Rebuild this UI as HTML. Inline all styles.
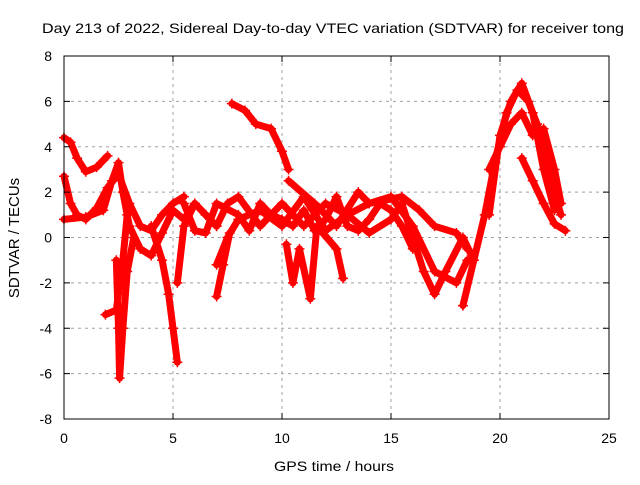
<!DOCTYPE html>
<html><head><meta charset="utf-8"><style>
body{margin:0;background:#fff;font-family:"Liberation Sans",sans-serif;}
svg text{font-family:"Liberation Sans",sans-serif;font-size:14px;fill:#000;}
</style></head><body>
<svg id="c" width="640" height="480" xmlns="http://www.w3.org/2000/svg">
<rect x="0" y="0" width="640" height="480" fill="#fff"/>
<text x="42" y="33" textLength="582" lengthAdjust="spacingAndGlyphs">Day 213 of 2022, Sidereal Day-to-day VTEC variation (SDTVAR) for receiver tong</text>
<text x="274" y="471" textLength="120" lengthAdjust="spacingAndGlyphs">GPS time / hours</text>
<text transform="translate(19,238) rotate(-90)" text-anchor="middle" style="font-size:15px">SDTVAR / TECUs</text>
<g id="grid"></g><g id="series"></g><g id="axes"></g>
</svg>
<script>
const xTicks=[0,5,10,15,20,25];
const yTicks=[-8,-6,-4,-2,0,2,4,6,8];
const trackA=[[0,4.4],[0.3,4.2],[0.6,3.5],[1,2.9],[1.5,3.1],[2,3.6]];
const trackB=[[0,2.7],[0.3,1.5],[0.6,1.0],[1,0.8],[1.5,1.3],[2,2.2],[2.5,2.8],[3,1.5],[3.5,0.5],[4,0.3],[4.5,1.0],[5,1.5],[5.5,1.8]];
const trackC=[[0,0.8],[1,0.9],[1.8,1.2],[2.2,2.5],[2.5,3.3],[2.7,2.0],[3,0.5],[3.5,-0.5],[4,-0.8],[4.5,0.2],[5,1.2],[5.5,0.8],[6,1.5]];
const trackD=[[2.4,-1],[2.5,-4],[2.55,-6.2],[2.7,-4],[2.9,-1.5],[3.2,0]];
const trackE=[[1.9,-3.4],[2.4,-3.2],[2.7,-1],[2.9,1]];
const trackF=[[4,0.5],[4.5,-1],[4.8,-2.5],[5,-4],[5.2,-5.5]];
const trackG=[[5.2,-2],[5.5,0.5],[6,1.5],[6.5,1.0],[7,0.5]];
const trackH=[[7.7,5.9],[8.3,5.6],[8.8,5.0],[9.5,4.8],[10,3.8],[10.3,3.0]];
const trackI=[[6.5,1.0],[7,0.5],[7.5,1.5],[8,1.8],[9,0.5],[10,1.5],[11,0.5],[12,1.5],[13,1.0],[14,1.5],[15,1.8],[16,0.5],[17,-1.5],[18,-2],[18.5,-1]];
const trackJ=[[7,-1.2],[7.5,0],[8,0.8],[9,1.2],[10,0.5],[11,1.8],[12,0.3],[13,1.0],[14,0.2],[15,0.8],[15.5,1.5],[16,0],[16.5,-1.5],[17,-2.5],[17.5,-1.5],[18.3,0],[18.8,-1]];
const trackK=[[10.3,2.5],[11.5,1.5],[12.5,0.5],[13.5,2.0],[14,1.5],[15.5,1.8],[16.3,1.2],[17,0.5],[18,0.2],[18.5,-0.5]];
const trackL=[[18.3,-3],[18.8,-1],[19.3,1],[19.8,3.5],[20.3,5.5],[20.8,6.5],[21.3,6],[21.7,5],[22.3,2.5],[22.8,1]];
const trackM=[[19.5,3],[20,4],[20.5,5],[21,5.5],[21.5,4.5],[22,4.8],[22.5,3],[22.8,1.5]];
const trackN=[[21,3.5],[21.5,2.5],[22,1.5],[22.5,0.6],[23,0.3]];
const trackO=[[19.5,1],[20,4.5],[20.5,6],[21,6.8],[21.5,5.5],[22,3],[22.5,1.2]];
const trackP=[[10.2,-0.3],[10.5,-2],[10.8,-0.5],[11.3,-2.7],[11.6,0.5],[12.5,-0.5],[12.8,-1.8]];
const trackQ=[[7,-2.6],[7.3,-1.2],[7.6,0.2]];
const trackR=[[5.5,1.5],[6,0.3],[6.5,0.2],[7,1.5],[8,1.0],[8.5,0.3],[9,1.5],[9.5,1.0],[10,0.8],[10.5,0.5],[11,1.2],[11.5,0.3],[12,0.8],[12.5,1.8],[13,0.5],[13.5,0.3],[14,0.8],[14.5,1.5],[15,1.2],[15.5,0.5],[16,-0.5]];
const tracks=[trackA,trackB,trackC,trackD,trackE,trackF,trackG,trackH,trackI,trackJ,trackK,trackL,trackM,trackN,trackO,trackP,trackQ,trackR];
const X0=64,X1=609,Y0=419,Y1=56;
const xs=v=>X0+(v-0)/25*(X1-X0);
const ys=v=>Y0-(v+8)/16*(Y0-Y1);
const NS="http://www.w3.org/2000/svg";
function mk(t,a,p){const e=document.createElementNS(NS,t);for(const k in a)e.setAttribute(k,a[k]);p.appendChild(e);return e;}
const grid=document.getElementById('grid'),axes=document.getElementById('axes'),ser=document.getElementById('series');
xTicks.forEach(t=>{const x=xs(t);
 if(t>0&&t<25){const g=mk('line',{x1:x,y1:Y1,x2:x,y2:Y0,stroke:'#a0a0a0','stroke-dasharray':'3,4','stroke-width':1},grid);
 }
 mk('line',{x1:x,y1:Y0,x2:x,y2:Y0-6,stroke:'#000'},axes);mk('line',{x1:x,y1:Y1,x2:x,y2:Y1+6,stroke:'#000'},axes);
 const l=mk('text',{x:x,y:Y0+24,'text-anchor':'middle'},axes);l.textContent=t;
 });
yTicks.forEach(t=>{const y=ys(t);
 if(t>-8&&t<8){const g=mk('line',{x1:X0,y1:y,x2:X1,y2:y,stroke:'#a0a0a0','stroke-dasharray':'3,4','stroke-width':1},grid);
 }
 mk('line',{x1:X0,y1:y,x2:X0+6,y2:y,stroke:'#000'},axes);mk('line',{x1:X1,y1:y,x2:X1-6,y2:y,stroke:'#000'},axes);
 const l=mk('text',{x:X0-12,y:y+5,'text-anchor':'end'},axes);l.textContent=t;
 });
const fr=mk('rect',{x:X0,y:Y1,width:X1-X0,height:Y0-Y1,fill:'none',stroke:'#000','stroke-width':1},axes);

tracks.forEach(tr=>{
 const pts=tr.map(p=>xs(p[0])+','+ys(p[1])).join(' ');
 const pl=mk('polyline',{points:pts,fill:'none',stroke:'#ff0000','stroke-width':7,'stroke-linejoin':'round','stroke-linecap':'round'},ser);
 
 
 tr.forEach(p=>{const x=xs(p[0]),y=ys(p[1]);
  const m=mk('path',{d:`M${x-5},${y}H${x+5}M${x},${y-5}V${y+5}`,stroke:'#ff0000','stroke-width':1.5},ser);
  
  });
});
</script>
</body></html>
